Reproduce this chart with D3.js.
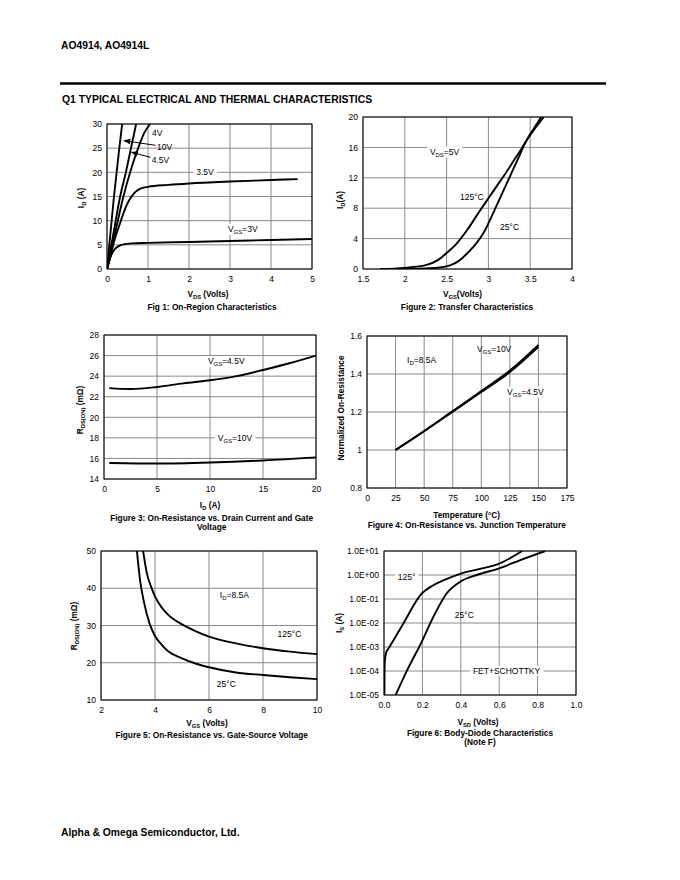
<!DOCTYPE html>
<html>
<head>
<meta charset="utf-8">
<script src="https://cdn.jsdelivr.net/npm/d3@7/dist/d3.min.js"></script>
<style>
body { margin: 0; background: #fff; }
svg { display: block; }
</style>
</head>
<body>
<div id="playground"></div>
<script>
// ---- Data ([x, y] pairs)

// Fig 1: ID vs VDS for several VGS
var fig1_vgs10 = [[0,0],[0.17,15],[0.3,25],[0.37,30]]
var fig1_vgs45 = [[0,0],[0.16,7.5],[0.32,15],[0.46,20],[0.585,25],[0.71,30]]
var fig1_vgs4 = [[0,0],[0.1,3.5],[0.2,7.5],[0.4,15],[0.6,21],[0.76,25],[0.9,28],[1.05,30]]
var fig1_vgs35 = [[0,0],[0.1,3.2],[0.2,6.5],[0.3,9],[0.4,11.5],[0.5,13.6],[0.6,15],[0.7,16],[0.8,16.6],[1,17],[1.5,17.4],[2,17.7],[3,18.1],[4,18.4],[4.65,18.6]]
var fig1_vgs3 = [[0,0],[0.05,1.5],[0.1,2.8],[0.2,4.2],[0.3,4.8],[0.4,5.1],[0.6,5.3],[1,5.4],[2,5.6],[3,5.8],[4,6.0],[5,6.2]]
var fig1_xticks = [0,1,2,3,4,5]
var fig1_yticks = [0,5,10,15,20,25,30]

// Fig 2: ID vs VGS
var fig2_125c = [[1.7,0],[2,0.15],[2.25,0.5],[2.4,1.2],[2.5,2.1],[2.6,3.1],[2.75,5.2],[2.9,7.7],[3,9.3],[3.1,10.9],[3.2,12.5],[3.3,14.2],[3.4,15.9],[3.45,16.8],[3.55,18.4],[3.66,20]]
var fig2_25c = [[2,0],[2.3,0.1],[2.5,0.35],[2.55,0.5],[2.65,1.1],[2.75,2.1],[2.85,3.3],[2.95,4.9],[3.05,7.2],[3.15,9.6],[3.25,12],[3.35,14.4],[3.45,16.8],[3.55,18.6],[3.63,20]]
var fig2_xticks = [1.5,2,2.5,3,3.5,4]
var fig2_yticks = [0,4,8,12,16,20]

// Fig 3: RDS(ON) vs ID
var fig3_vgs45 = [[0.5,22.84],[2.5,22.75],[5,22.95],[7.5,23.3],[10,23.6],[12.5,24],[15,24.6],[17.5,25.25],[20,26]]
var fig3_vgs10 = [[0.5,15.55],[5,15.5],[10,15.6],[15,15.8],[20,16.1]]
var fig3_xticks = [0,5,10,15,20]
var fig3_yticks = [14,16,18,20,22,24,26,28]

// Fig 4: normalized RDS(ON) vs temperature
var fig4_vgs10 = [[25,1],[50,1.1],[75,1.205],[100,1.31],[125,1.418],[150,1.553]]
var fig4_vgs45 = [[25,1],[50,1.099],[75,1.202],[100,1.305],[125,1.41],[150,1.543]]
var fig4_xticks = [0,25,50,75,100,125,150,175]
var fig4_yticks = [0.8,1,1.2,1.4,1.6]

// Fig 5: RDS(ON) vs VGS
var fig5_125c = [[3.56,50],[3.7,44],[3.85,40.5],[4,37.8],[4.25,34.8],[4.5,32.8],[5,30.3],[5.5,28.5],[6,27],[7,25.2],[8,23.9],[9,23],[10,22.3]]
var fig5_25c = [[3.33,50],[3.45,42],[3.6,36],[3.8,30.5],[4,27.2],[4.25,24.8],[4.5,23],[5,21.2],[5.5,19.8],[6,18.8],[7,17.4],[8,16.7],[9,16.1],[10,15.6]]
var fig5_xticks = [2,4,6,8,10]
var fig5_yticks = [10,20,30,40,50]

// Fig 6: body diode IS vs VSD (log)
var fig6_125c = [[0.002,1e-5],[0.003,1e-4],[0.005,3e-4],[0.012,6e-4],[0.025,9e-4],[0.1,9.3e-3],[0.197,0.17],[0.25,0.35],[0.3,0.55],[0.4,1.15],[0.5,1.8],[0.6,3.0],[0.72,10]]
var fig6_25c = [[0.061,1e-5],[0.117,9.4e-5],[0.197,1.67e-3],[0.257,0.018],[0.326,0.17],[0.398,0.53],[0.483,1.0],[0.6,1.9],[0.71,4.2],[0.84,10]]
var fig6_xticks = [0,0.2,0.4,0.6,0.8,1.0]
var fig6_yticks = [1e-5,1e-4,1e-3,1e-2,1e-1,1,10]
var fig6_ylabels = ['1.0E-05','1.0E-04','1.0E-03','1.0E-02','1.0E-01','1.0E+00','1.0E+01']

// ---- Settings
var settings = {}
settings.width = 680
settings.height = 880
settings.font = 'Liberation Sans, Arial, Helvetica, sans-serif'
settings.tick_size = 8.5
settings.label_size = 8.3
settings.caption_size = 8.3
settings.grid_color = '#8a8a8a'
settings.curve_width = 1.9

var svg = d3.select('#playground').append('svg')
	.attr('width', settings.width)
	.attr('height', settings.height)
	.attr('font-family', settings.font)

// Page header / footer
svg.append('text').attr('x', 61).attr('y', 49).attr('font-size', 10.3).attr('font-weight', 'bold').text('AO4914, AO4914L')
svg.append('line').attr('x1', 60).attr('x2', 606).attr('y1', 83.5).attr('y2', 83.5).attr('stroke', '#000').attr('stroke-width', 2.5)
svg.append('text').attr('x', 62).attr('y', 103).attr('font-size', 10.4).attr('font-weight', 'bold').text('Q1 TYPICAL ELECTRICAL AND THERMAL CHARACTERISTICS')
svg.append('text').attr('x', 61).attr('y', 836).attr('font-size', 10.3).attr('font-weight', 'bold').text('Alpha & Omega Semiconductor, Ltd.')

// Arrow head marker
svg.append('defs').append('marker')
	.attr('id', 'arrow')
	.attr('viewBox', '0 0 10 10')
	.attr('refX', 9).attr('refY', 5)
	.attr('markerWidth', 7).attr('markerHeight', 7)
	.attr('markerUnits', 'userSpaceOnUse')
	.attr('orient', 'auto')
	.append('path').attr('d', 'M0,1 L10,5 L0,9 Z').attr('fill', '#000')

// ---- Panels
drawPanel({
	left: 107, right: 312, top: 124, bottom: 269,
	xDomain: [0, 5], yDomain: [0, 30],
	xTicks: fig1_xticks, yTicks: fig1_yticks,
	series: [fig1_vgs10, fig1_vgs45, fig1_vgs4, fig1_vgs35, fig1_vgs3],
	labels: [
		{parts: [['4V']], x: 1.1, y: 28.2},
		{parts: [['10V']], x: 1.22, y: 25.3},
		{parts: [['4.5V']], x: 1.09, y: 22.6},
		{parts: [['3.5V']], x: 2.39, y: 20, anchor: 'middle', bg: true},
		{parts: [['V'], ['GS', 1], ['=3V']], x: 2.95, y: 8.3, bg: true}
	],
	arrows: [[[1.18, 25.6], [0.415, 26.55]], [[1.06, 23.1], [0.6, 24.15]]],
	xLabel: [['V'], ['DS', 1], [' (Volts)']], xLabelPos: [208, 294],
	yLabel: [['I'], ['D', 1], [' (A)']], yLabelPos: [81, 198],
	caption: ['Fig 1: On-Region Characteristics'], captionPos: [212, 306.7]
})

drawPanel({
	left: 363, right: 572, top: 117, bottom: 269,
	xDomain: [1.5, 4], yDomain: [0, 20],
	xTicks: fig2_xticks, yTicks: fig2_yticks,
	series: [fig2_125c, fig2_25c],
	labels: [
		{parts: [['V'], ['DS', 1], ['=5V']], x: 2.3, y: 15.45, bg: true},
		{parts: [['125°C']], x: 2.66, y: 9.47},
		{parts: [['25°C']], x: 3.14, y: 5.5}
	],
	xLabel: [['V'], ['GS', 1], ['(Volts)']], xLabelPos: [462.5, 294],
	yLabel: [['I'], ['D', 1], ['(A)']], yLabelPos: [340, 200],
	caption: ['Figure 2: Transfer Characteristics'], captionPos: [467, 306.7]
})

drawPanel({
	left: 104, right: 316, top: 335, bottom: 479,
	xDomain: [0, 20], yDomain: [14, 28],
	xTicks: fig3_xticks, yTicks: fig3_yticks,
	series: [fig3_vgs45, fig3_vgs10],
	labels: [
		{parts: [['V'], ['GS', 1], ['=4.5V']], x: 9.8, y: 25.47, bg: true},
		{parts: [['V'], ['GS', 1], ['=10V']], x: 10.74, y: 18.0, bg: true}
	],
	xLabel: [['I'], ['D', 1], [' (A)']], xLabelPos: [210, 505],
	yLabel: [['R'], ['DS(ON)', 1], [' (mΩ)']], yLabelPos: [80, 410],
	caption: ['Figure 3: On-Resistance vs. Drain Current and Gate', 'Voltage'], captionPos: [211.7, 517.7]
})

drawPanel({
	left: 367, right: 567, top: 336, bottom: 488,
	xDomain: [0, 175], yDomain: [0.8, 1.6],
	xTicks: fig4_xticks, yTicks: fig4_yticks,
	series: [fig4_vgs10, fig4_vgs45],
	labels: [
		{parts: [['I'], ['D', 1], ['=8.5A']], x: 35, y: 1.473},
		{parts: [['V'], ['GS', 1], ['=10V']], x: 96.2, y: 1.53},
		{parts: [['V'], ['GS', 1], ['=4.5V']], x: 122.5, y: 1.307, bg: true}
	],
	xLabel: [['Temperature (°C)']], xLabelPos: [466.7, 515],
	yLabel: [['Normalized On-Resistance']], yLabelPos: [341, 408],
	caption: ['Figure 4: On-Resistance vs. Junction Temperature'], captionPos: [466.7, 525]
})

drawPanel({
	left: 101, right: 317, top: 551, bottom: 700,
	xDomain: [2, 10], yDomain: [10, 50],
	xTicks: fig5_xticks, yTicks: fig5_yticks,
	series: [fig5_125c, fig5_25c],
	labels: [
		{parts: [['I'], ['D', 1], ['=8.5A']], x: 6.4, y: 38.2},
		{parts: [['125°C']], x: 8.54, y: 27.7},
		{parts: [['25°C']], x: 6.29, y: 14.3}
	],
	xLabel: [['V'], ['GS', 1], [' (Volts)']], xLabelPos: [207, 723],
	yLabel: [['R'], ['DS(ON)', 1], [' (mΩ)']], yLabelPos: [74, 626],
	caption: ['Figure 5: On-Resistance vs. Gate-Source Voltage'], captionPos: [211.7, 735]
})

drawPanel({
	left: 384, right: 576, top: 551, bottom: 695,
	xDomain: [0, 1], yDomain: [1e-5, 10], log: true,
	xTicks: fig6_xticks, yTicks: fig6_yticks,
	xFormat: d3.format('.1f'), yFormat: function(d, i){ return fig6_ylabels[i] },
	series: [fig6_125c, fig6_25c],
	labels: [
		{parts: [['125°']], x: 0.072, y: 0.83, bg: true},
		{parts: [['25°C']], x: 0.369, y: 0.0215},
		{parts: [['FET+SCHOTTKY']], x: 0.463, y: 1e-4, bg: true}
	],
	xLabel: [['V'], ['SD', 1], [' (Volts)']], xLabelPos: [478, 721.7],
	yLabel: [['I'], ['S', 1], [' (A)']], yLabelPos: [339, 623],
	caption: ['Figure 6: Body-Diode Characteristics', '(Note F)'], captionPos: [480, 732.7]
})

// ---
// Functions

function drawPanel(p) {
	var x = d3.scaleLinear().domain(p.xDomain).range([p.left, p.right])
	var y = (p.log ? d3.scaleLog() : d3.scaleLinear()).domain(p.yDomain).range([p.bottom, p.top])
	var g = svg.append('g')

	// Grid
	p.xTicks.forEach(function(v){
		g.append('line')
			.attr('x1', x(v)).attr('x2', x(v))
			.attr('y1', p.top).attr('y2', p.bottom)
			.attr('stroke', settings.grid_color).attr('stroke-width', 1)
	})
	p.yTicks.forEach(function(v){
		g.append('line')
			.attr('x1', p.left).attr('x2', p.right)
			.attr('y1', y(v)).attr('y2', y(v))
			.attr('stroke', settings.grid_color).attr('stroke-width', 1)
	})

	// Axes (labels only, the grid does the ticks)
	var xAxis = d3.axisBottom(x).tickValues(p.xTicks).tickSize(0).tickPadding(7)
	if (p.xFormat) xAxis.tickFormat(p.xFormat)
	else xAxis.tickFormat(function(d){ return String(d) })
	var yAxis = d3.axisLeft(y).tickValues(p.yTicks).tickSize(0).tickPadding(5)
	if (p.yFormat) yAxis.tickFormat(p.yFormat)
	else yAxis.tickFormat(function(d){ return String(d) })

	var gx = g.append('g').attr('transform', 'translate(0,' + p.bottom + ')').call(xAxis)
	var gy = g.append('g').attr('transform', 'translate(' + p.left + ',0)').call(yAxis)
	;[gx, gy].forEach(function(a){
		a.select('.domain').remove()
		a.selectAll('text')
			.attr('font-family', settings.font)
			.attr('font-size', settings.tick_size)
			.attr('fill', '#000')
	})

	// Labels inside the plot
	;(p.labels || []).forEach(function(l){
		var t = g.append('text')
			.attr('x', x(l.x))
			.attr('y', y(l.y))
			.attr('dy', '0.35em')
			.attr('font-size', settings.tick_size)
			.attr('text-anchor', l.anchor || 'start')
		addRich(t, l.parts, settings.tick_size)
		if (l.bg) {
			var b = t.node().getBBox()
			g.insert('rect', function(){ return t.node() })
				.attr('x', b.x - 3).attr('y', b.y)
				.attr('width', b.width + 6).attr('height', b.height)
				.attr('fill', '#fff')
		}
	})

	// Curves
	var clipId = 'clip' + Math.round(p.left) + '_' + Math.round(p.top)
	svg.select('defs').append('clipPath').attr('id', clipId)
		.append('rect')
		.attr('x', p.left).attr('y', p.top)
		.attr('width', p.right - p.left).attr('height', p.bottom - p.top)

	var line = d3.line()
		.x(function(d){ return x(d[0]) })
		.y(function(d){ return y(d[1]) })
		.curve(d3.curveMonotoneX)

	p.series.forEach(function(s){
		g.append('path')
			.attr('d', line(s))
			.attr('fill', 'none')
			.attr('stroke', '#000')
			.attr('stroke-width', settings.curve_width)
			.attr('stroke-linejoin', 'round')
			.attr('clip-path', 'url(#' + clipId + ')')
	})

	// Arrows
	;(p.arrows || []).forEach(function(a){
		g.append('line')
			.attr('x1', x(a[0][0])).attr('y1', y(a[0][1]))
			.attr('x2', x(a[1][0])).attr('y2', y(a[1][1]))
			.attr('stroke', '#000').attr('stroke-width', 1)
			.attr('marker-end', 'url(#arrow)')
	})

	// Frame
	g.append('rect')
		.attr('x', p.left).attr('y', p.top)
		.attr('width', p.right - p.left).attr('height', p.bottom - p.top)
		.attr('fill', 'none').attr('stroke', '#000').attr('stroke-width', 1)

	// Axis titles
	var xt = g.append('text')
		.attr('x', p.xLabelPos[0]).attr('y', p.xLabelPos[1])
		.attr('dy', '0.35em')
		.attr('text-anchor', 'middle')
		.attr('font-size', settings.label_size)
		.attr('font-weight', 'bold')
	addRich(xt, p.xLabel, settings.label_size)

	var yt = g.append('text')
		.attr('transform', 'translate(' + p.yLabelPos[0] + ',' + p.yLabelPos[1] + ') rotate(-90)')
		.attr('dy', '0.35em')
		.attr('text-anchor', 'middle')
		.attr('font-size', settings.label_size)
		.attr('font-weight', 'bold')
	addRich(yt, p.yLabel, settings.label_size)

	// Caption
	p.caption.forEach(function(c, i){
		g.append('text')
			.attr('x', p.captionPos[0]).attr('y', p.captionPos[1] + i * 9.5)
			.attr('dy', '0.35em')
			.attr('text-anchor', 'middle')
			.attr('font-size', settings.caption_size)
			.attr('font-weight', 'bold')
			.text(c)
	})
}

function addRich(textSel, parts, size) {
	var shifted = false
	parts.forEach(function(part){
		var ts = textSel.append('tspan').text(part[0])
		if (part[1]) {
			ts.attr('font-size', size * 0.7).attr('dy', size * 0.25)
			shifted = true
		} else if (shifted) {
			ts.attr('dy', -size * 0.25)
			shifted = false
		}
	})
}
</script>
</body>
</html>
